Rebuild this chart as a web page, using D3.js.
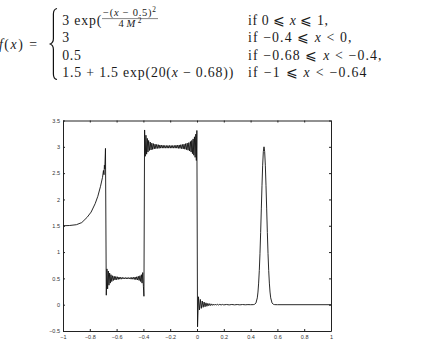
<!DOCTYPE html>
<html>
<head>
<meta charset="utf-8">
<script src="https://cdn.jsdelivr.net/npm/d3@7"></script>
<style>
  body { margin: 0; background: #fff; }
  svg { display: block; }
  .formula text { font-family: "Liberation Serif", "DejaVu Serif", serif; fill: #1a1a1a; }
  .tick text { font-family: "Liberation Sans", "DejaVu Sans", sans-serif; font-size: 5.5px; fill: #333; }
  .axis path, .axis line { stroke: #222; }
  .curve { fill: none; stroke: #111; stroke-width: 0.9; }
</style>
</head>
<body>
<svg id="graph" width="424" height="355"></svg>
<script>
// curve, left to right
var expRise = [
  [-1, 1.5], [-0.95, 1.505], [-0.9, 1.52], [-0.86, 1.56], [-0.82, 1.66], [-0.79, 1.76],
  [-0.76, 1.92], [-0.74, 2.06], [-0.72, 2.25], [-0.705, 2.42], [-0.698, 2.55], [-0.694, 2.47],
  [-0.691, 2.65], [-0.688, 2.58], [-0.683, 2.97]
]
var lowPlateau = [
  [-0.677, 0.18], [-0.672, 0.68], [-0.667, 0.30], [-0.662, 0.64], [-0.657, 0.37], [-0.652, 0.60],
  [-0.647, 0.41], [-0.642, 0.57], [-0.636, 0.44], [-0.630, 0.55], [-0.624, 0.46], [-0.618, 0.54],
  [-0.612, 0.47], [-0.606, 0.535], [-0.600, 0.475], [-0.594, 0.53], [-0.588, 0.48], [-0.582, 0.525],
  [-0.576, 0.485], [-0.570, 0.52], [-0.564, 0.485], [-0.558, 0.52], [-0.552, 0.49], [-0.546, 0.515],
  [-0.540, 0.49], [-0.534, 0.515], [-0.528, 0.49], [-0.522, 0.515], [-0.516, 0.49], [-0.510, 0.515],
  [-0.504, 0.49], [-0.498, 0.515], [-0.492, 0.485], [-0.486, 0.52], [-0.480, 0.485], [-0.474, 0.52],
  [-0.468, 0.48], [-0.462, 0.525], [-0.456, 0.475], [-0.450, 0.53], [-0.444, 0.47], [-0.438, 0.54],
  [-0.432, 0.46], [-0.426, 0.55], [-0.420, 0.44], [-0.415, 0.57], [-0.410, 0.41], [-0.405, 0.61],
  [-0.400, 0.35], [-0.396, 0.16]
]
var highPlateau = [
  [-0.391, 3.32], [-0.386, 2.82], [-0.381, 3.22], [-0.376, 2.86], [-0.371, 3.16], [-0.366, 2.9],
  [-0.361, 3.12], [-0.355, 2.93], [-0.349, 3.09], [-0.343, 2.94], [-0.337, 3.07], [-0.331, 2.95],
  [-0.325, 3.06], [-0.319, 2.96], [-0.313, 3.05], [-0.307, 2.965], [-0.301, 3.045], [-0.295, 2.97],
  [-0.289, 3.04], [-0.283, 2.97], [-0.277, 3.035], [-0.271, 2.975], [-0.265, 3.03], [-0.259, 2.975],
  [-0.253, 3.03], [-0.247, 2.975], [-0.241, 3.025], [-0.235, 2.975], [-0.229, 3.025], [-0.223, 2.975],
  [-0.217, 3.025], [-0.211, 2.975], [-0.205, 3.025], [-0.199, 2.975], [-0.193, 3.025], [-0.187, 2.975],
  [-0.181, 3.025], [-0.175, 2.975], [-0.169, 3.025], [-0.163, 2.975], [-0.157, 3.03], [-0.151, 2.975],
  [-0.145, 3.03], [-0.139, 2.97], [-0.133, 3.035], [-0.127, 2.97], [-0.121, 3.04], [-0.115, 2.965],
  [-0.109, 3.045], [-0.103, 2.96], [-0.097, 3.05], [-0.091, 2.955], [-0.085, 3.06], [-0.079, 2.945],
  [-0.073, 3.07], [-0.067, 2.935], [-0.061, 3.08], [-0.055, 2.92], [-0.049, 3.1], [-0.044, 2.9],
  [-0.039, 3.12], [-0.034, 2.87], [-0.029, 3.15], [-0.024, 2.84], [-0.019, 3.19], [-0.014, 2.8],
  [-0.009, 3.24], [-0.005, 2.74], [-0.001, 3.31]
]
var afterZero = [
  [0.004, -0.42], [0.011, 0.15], [0.018, -0.1], [0.025, 0.1], [0.032, -0.07], [0.039, 0.07],
  [0.046, -0.05], [0.053, 0.05], [0.060, -0.04], [0.067, 0.035], [0.074, -0.03], [0.081, 0.025],
  [0.088, -0.02], [0.095, 0.02], [0.102, -0.016], [0.109, 0.015], [0.116, -0.012], [0.123, 0.012],
  [0.130, -0.01], [0.137, 0.01], [0.144, -0.008], [0.151, 0.008], [0.160, -0.006], [0.170, 0.006],
  [0.180, -0.005], [0.19, 0.005], [0.2, -0.004], [0.22, 0.004], [0.24, -0.004], [0.26, 0.004],
  [0.28, -0.003], [0.30, 0.003], [0.32, -0.003], [0.34, 0.003], [0.36, -0.002], [0.38, 0.002], [0.40, 0]
]
var gaussPeak = [
  [0.42, 0.001], [0.43, 0.007], [0.44, 0.033], [0.45, 0.13], [0.455, 0.24], [0.46, 0.41], [0.465, 0.65],
  [0.47, 0.97], [0.475, 1.37], [0.48, 1.82], [0.485, 2.26], [0.49, 2.65], [0.495, 2.91], [0.5, 3.0],
  [0.505, 2.91], [0.51, 2.65], [0.515, 2.26], [0.52, 1.82], [0.525, 1.37], [0.53, 0.97], [0.535, 0.65],
  [0.54, 0.41], [0.545, 0.24], [0.55, 0.13], [0.56, 0.033], [0.57, 0.007], [0.58, 0.001]
]
var tail = [[0.6, 0], [1, 0]]

var xTicks = [-1, -0.8, -0.6, -0.4, -0.2, 0, 0.2, 0.4, 0.6, 0.8, 1]
var xTickLabels = ["\u22121", "\u22120.8", "\u22120.6", "\u22120.4", "\u22120.2", "0", "0.2", "0.4", "0.6", "0.8", "1"]
var yTicks = [-0.5, 0, 0.5, 1, 1.5, 2, 2.5, 3, 3.5]
var yTickLabels = ["\u22120.5", "0", "0.5", "1", "1.5", "2", "2.5", "3", "3.5"]

var svg = d3.select("#graph")
svg.append("rect").attr("width", 424).attr("height", 355).attr("fill", "#fff")

// ---- formula on top ----
var f = svg.append("g").attr("class", "formula")
var fs = 13.8

// parts: [text, italic?]; spread out to the width seen in the picture
function mathText(x0, y0, size, width, parts) {
    var t = f.append("text").attr("x", x0).attr("y", y0).attr("font-size", size)
        .attr("textLength", width).attr("lengthAdjust", "spacing")
    parts.forEach(function (p) {
        var s = t.append("tspan").text(p[0])
        if (p[1] == 1) s.attr("font-style", "italic")
        if (p[1] == 2) s.attr("font-size", size * 0.7).attr("dy", -size * 0.35)
    })
    return t
}

mathText(-1, 48.5, fs, 38, [["f", 1], ["(", 0], ["x", 1], [") =", 0]])

f.append("path")
    .attr("d", "M57,8.5 C54.2,9 53.4,11 53.4,14 L53.4,38.5 C53.4,41.5 52.6,43 50.3,44 C52.6,45 53.4,46.5 53.4,49.5 L53.4,74 C53.4,77 54.2,79 57,79.5")
    .attr("fill", "none").attr("stroke", "#111").attr("stroke-width", 1.2)

var colX = 62.3, condX = 248

// row 1
mathText(colX, 24.5, fs, 39, [["3 exp(", 0]])
mathText(103, 15.5, 10.5, 53, [["\u2212(", 0], ["x", 1], [" \u2212 0.5)", 0], ["2", 2]])
f.append("line").attr("x1", 102).attr("x2", 158).attr("y1", 18.6).attr("y2", 18.6)
    .attr("stroke", "#111").attr("stroke-width", 0.5)
mathText(118.5, 27, 10.5, 23, [["4", 0], ["M", 1], ["2", 2]])
mathText(condX, 24.5, fs, 80, [["if 0 \u2a7d ", 0], ["x", 1], [" \u2a7d 1,", 0]])

// row 2
f.append("text").attr("x", colX).attr("y", 42).attr("font-size", fs).text("3")
mathText(condX, 42, fs, 103.5, [["if \u22120.4 \u2a7d ", 0], ["x", 1], [" < 0,", 0]])

// row 3
mathText(colX, 60, fs, 18.5, [["0.5", 0]])
mathText(condX, 60, fs, 133.5, [["if \u22120.68 \u2a7d ", 0], ["x", 1], [" < \u22120.4,", 0]])

// row 4
mathText(colX, 77.3, fs, 171, [["1.5 + 1.5 exp(20(", 0], ["x", 1], [" \u2212 0.68))", 0]])
mathText(condX, 77.3, fs, 118.5, [["if \u22121 \u2a7d ", 0], ["x", 1], [" < \u22120.64", 0]])

// ---- plot ----
var x = d3.scaleLinear().domain([-1, 1]).range([63, 331])
var y = d3.scaleLinear().domain([-0.5, 3.5]).range([331, 120.5])

var g = svg.append("g")

g.append("g").attr("class", "axis")
    .attr("transform", "translate(0," + y(-0.5) + ")")
    .call(d3.axisBottom(x).tickValues(xTicks).tickSizeInner(-2).tickSizeOuter(0).tickPadding(4)
        .tickFormat((d, i) => xTickLabels[i]))
g.append("g").attr("class", "axis")
    .attr("transform", "translate(0," + y(3.5) + ")")
    .call(d3.axisTop(x).tickValues(xTicks).tickSizeInner(-2).tickSizeOuter(0).tickFormat(""))
g.append("g").attr("class", "axis")
    .attr("transform", "translate(" + x(-1) + ",0)")
    .call(d3.axisLeft(y).tickValues(yTicks).tickSizeInner(-2).tickSizeOuter(0).tickPadding(3)
        .tickFormat((d, i) => yTickLabels[i]))
g.append("g").attr("class", "axis")
    .attr("transform", "translate(" + x(1) + ",0)")
    .call(d3.axisRight(y).tickValues(yTicks).tickSizeInner(-2).tickSizeOuter(0).tickFormat(""))

g.selectAll(".axis .domain").attr("stroke-width", 1)

var curve = [].concat(expRise, lowPlateau, highPlateau, afterZero, gaussPeak, tail)

var line = d3.line()
    .x(d => x(d[0]))
    .y(d => y(d[1]))

g.append("path")
    .datum(curve)
    .attr("class", "curve")
    .attr("d", line)
</script>
</body>
</html>
